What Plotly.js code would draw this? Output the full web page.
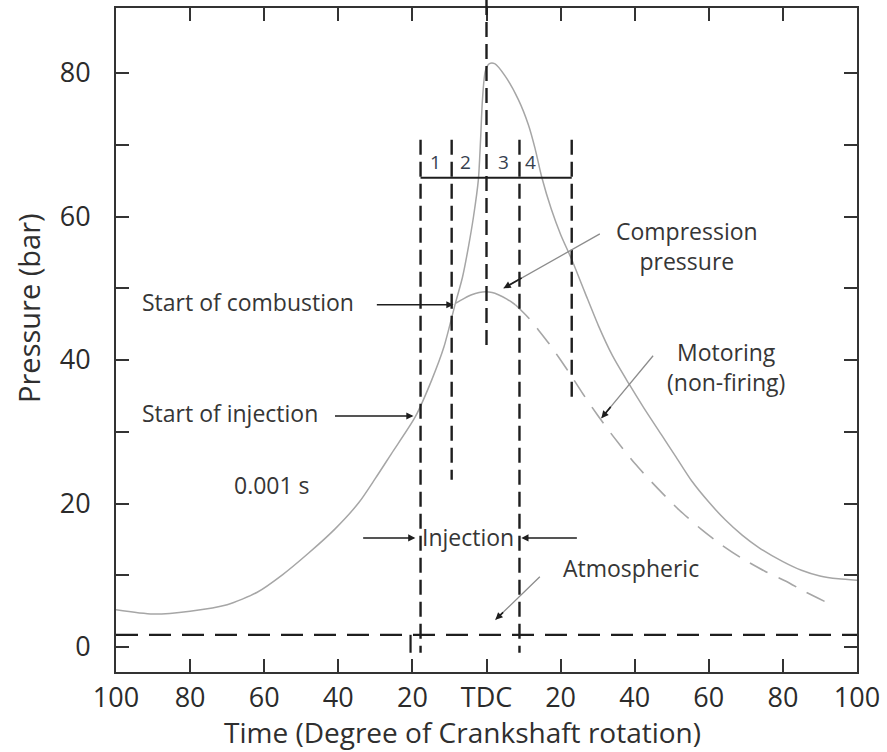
<!DOCTYPE html>
<html>
<head>
<meta charset="utf-8">
<script src="https://cdn.plot.ly/plotly-3.0.1.min.js"></script>
<style>
  html, body { margin: 0; padding: 0; background: #ffffff; }
  #chart { width: 887px; height: 752px; }
</style>
</head>
<body>
<div id="chart"></div>
<script>
// Cylinder pressure vs crank angle for a diesel engine (firing and motoring)

// crank angle in degrees, negative = before TDC
const crankAngle = [-100, -90, -80, -70, -62, -55, -48, -41, -34.5, -30, -25.6, -19.2, -14.8, -11.5, -8.4,
  -6.5, -4.9, -3.5, -2.2, -1.6, -1.1, -0.3, 0.8, 2.2, 5.0, 8.6, 11.3, 13.1, 14.9, 17.5, 20,
  23, 26.5, 30.2, 34, 38.3, 42.5, 47.2, 51, 55.3, 60, 64.5, 69, 73.4, 80, 85, 90, 95, 100];
const firingPressure = [5.2, 4.6, 5.0, 5.9, 7.6, 10.1, 13.1, 16.4, 20.1, 23.5, 27.0, 32.1, 37.2, 41.8, 47.9,
  51.5, 55.7, 60.0, 65.1, 70.7, 76.2, 80.3, 81.3, 81.3, 79.6, 76.3, 72.8, 69.5, 65.5, 61.0, 57.5,
  54.0, 49.5, 44.8, 40.6, 36.8, 33.3, 29.6, 26.6, 23.2, 20.2, 17.7, 15.6, 13.9, 11.9, 10.7, 9.9, 9.5, 9.3];

// motoring (non-firing) curve after it leaves the firing curve
const motoringAngle = [-8.4, -6, -4, -2, -0.3, 1.5, 3.2, 5.5, 7.8];
const motoringPressure = [47.9, 48.6, 49.1, 49.4, 49.5, 49.4, 49.1, 48.5, 47.7];
const motoringTailAngle = [7.8, 11.3, 14, 17, 20, 23, 26, 30, 34, 40, 46.4, 52, 58, 63, 68.8, 75, 80.7, 86, 92.3];
const motoringTailPressure = [47.7, 45.9, 44.2, 42.2, 40.0, 37.7, 35.3, 32.3, 29.5, 25.6, 22.0, 19.1, 16.4, 14.4, 12.4, 10.6, 9.2, 7.7, 6.1];

const atmosphericPressure = 1.7;

// event markers: start of injection, start of combustion, end of injection, end of combustion
const markerAngle = [-17.8, -9.4, 8.9, 23];
const markerTop = [70.7, 70.7, 70.7, 70.7];
const markerBottom = [-0.8, 23.3, -0.8, 34.4];
const tdcAngle = 0;
const tdcBottom = 41.4;
const phaseBarPressure = 65.4;
const phaseLabels = ['1', '2', '3', '4'];
const phaseLabelAngle = [-13.8, -5.7, 4.6, 11.9];
const phaseLabelPressure = 67.6;

// axis ticks
const xTickVals = [-100, -80, -60, -40, -20, 0, 20, 40, 60, 80, 100];
const xTickText = ['100', '80', '60', '40', '20', 'TDC', '20', '40', '60', '80', '100'];
const yTickVals = [0, 10, 20, 30, 40, 50, 60, 70, 80];
const yTickText = ['0', '', '20', '', '40', '', '60', '', '80'];

const xRange = [-100, 100];
const yRange = [-3.48, 89.06];
const toPaperY = v => (v - yRange[0]) / (yRange[1] - yRange[0]);

const curveColor = '#a6a6a6';
const inkColor = '#1e1e1e';
const textColor = '#363636';
const FONT = 'Open Sans, Noto Sans, sans-serif';

const traces = [
  { x: crankAngle, y: firingPressure, mode: 'lines',
    line: { color: curveColor, width: 1.5, shape: 'spline', smoothing: 0.7 }, hoverinfo: 'skip' },
  { x: motoringAngle, y: motoringPressure, mode: 'lines',
    line: { color: curveColor, width: 1.5, shape: 'spline', smoothing: 0.7 }, hoverinfo: 'skip' },
  { x: motoringTailAngle, y: motoringTailPressure, mode: 'lines',
    line: { color: curveColor, width: 1.6, dash: '20px,12px', shape: 'spline', smoothing: 0.7 }, hoverinfo: 'skip' }
];

const shapes = [];
// atmospheric line
shapes.push({ type: 'line', xref: 'x', yref: 'y', x0: xRange[0], x1: xRange[1],
  y0: atmosphericPressure, y1: atmosphericPressure,
  line: { color: inkColor, width: 2.2, dash: '22px,11px' } });
// event markers
markerAngle.forEach((a, i) => {
  shapes.push({ type: 'line', xref: 'x', yref: 'y', x0: a, x1: a,
    y0: markerTop[i], y1: markerBottom[i],
    line: { color: inkColor, width: 2.4, dash: '15px,7px' } });
});
// TDC marker runs through the top of the frame
shapes.push({ type: 'line', xref: 'x', yref: 'paper', x0: tdcAngle, x1: tdcAngle,
  y0: 1.012, y1: toPaperY(tdcBottom),
  line: { color: inkColor, width: 2.4, dash: '15px,7px' } });
// short tick beside the injection marker at the atmospheric line
shapes.push({ type: 'line', xref: 'x', yref: 'y', x0: -20.5, x1: -20.5,
  y0: atmosphericPressure, y1: -0.8, line: { color: inkColor, width: 2.2 } });
// combustion phase bar
shapes.push({ type: 'line', xref: 'x', yref: 'y', x0: markerAngle[0], x1: markerAngle[3],
  y0: phaseBarPressure, y1: phaseBarPressure, line: { color: inkColor, width: 2 } });

const annotations = [];
const label = (text, x, y, opts) => Object.assign({
  text, x, y, xref: 'x', yref: 'y', showarrow: false, xanchor: 'left', yanchor: 'middle',
  font: { family: FONT, size: 23, color: textColor }
}, opts || {});

// black pointer arrow
const pointer = (hx, hy, tx, ty, color) => ({
  x: hx, y: hy, ax: tx, ay: ty, xref: 'x', yref: 'y', axref: 'x', ayref: 'y',
  text: '', showarrow: true, arrowhead: 2, arrowsize: 0.9, arrowwidth: 1.6,
  arrowcolor: color || inkColor, standoff: 0
});
// thin gray leader with a small black head
const leader = (hx, hy, tx, ty) => {
  const f = 0.2;
  return [
    { x: hx, y: hy, ax: tx, ay: ty, xref: 'x', yref: 'y', axref: 'x', ayref: 'y',
      text: '', showarrow: true, arrowhead: 0, arrowwidth: 1.3, arrowcolor: '#8c8c8c' },
    pointer(hx, hy, hx + f * (tx - hx), hy + f * (ty - hy))
  ];
};

annotations.push(label('Start of combustion', -93.4, 48.1));
annotations.push(pointer(-8.9, 47.7, -30.0, 47.7));
annotations.push(label('Start of injection', -93.4, 32.6));
annotations.push(pointer(-19.7, 32.2, -41.3, 32.2));
annotations.push(label('0.001 s', -68.8, 22.6));
annotations.push(label('Compression<br>pressure', 34.3, 55.9));
annotations.push(...leader(4.6, 50.0, 31.0, 57.7));
annotations.push(label('Motoring<br>(non-firing)', 48.3, 39.0));
annotations.push(...leader(31.0, 31.9, 45.3, 40.8));
annotations.push(label('Injection', -4.9, 15.3, { xanchor: 'center' }));
annotations.push(pointer(-19.2, 15.2, -33.7, 15.2));
annotations.push(pointer(9.4, 15.2, 24.8, 15.2));
annotations.push(label('Atmospheric', 20.0, 11.0));
annotations.push(...leader(2.4, 3.8, 14.8, 10.0));
phaseLabels.forEach((t, i) => {
  annotations.push(label(t, phaseLabelAngle[i], phaseLabelPressure,
    { xanchor: 'center', font: { family: FONT, size: 19, color: '#36404e' } }));
});
// axis titles
annotations.push({ text: 'Pressure (bar)', xref: 'paper', yref: 'paper', x: -0.119, y: 0.548,
  showarrow: false, textangle: -90, xanchor: 'center', yanchor: 'middle',
  font: { family: FONT, size: 29, color: '#2f2f2f' } });
annotations.push({ text: 'Time (Degree of Crankshaft rotation)', xref: 'paper', yref: 'paper',
  x: 0.467, y: -0.0904, showarrow: false, xanchor: 'center', yanchor: 'middle',
  font: { family: FONT, size: 28, color: '#2f2f2f' } });

const axisCommon = {
  showline: true, linecolor: '#333', linewidth: 2, mirror: 'ticks',
  ticks: 'inside', ticklen: 13, tickwidth: 2, tickcolor: '#333',
  showgrid: false, zeroline: false, fixedrange: true,
  tickfont: { family: FONT, size: 27, color: '#2b2b2b' }
};

const layout = {
  width: 887, height: 752,
  margin: { l: 116, r: 30, t: 8, b: 80 },
  paper_bgcolor: '#ffffff', plot_bgcolor: '#ffffff',
  showlegend: false,
  font: { family: FONT, color: '#333' },
  xaxis: Object.assign({}, axisCommon, {
    range: xRange, tickmode: 'array', tickvals: xTickVals, ticktext: xTickText,
    ticklabelstandoff: 1
  }),
  yaxis: Object.assign({}, axisCommon, {
    range: yRange, tickmode: 'array', tickvals: yTickVals, ticktext: yTickText,
    ticklabelstandoff: 18
  }),
  shapes, annotations
};

Plotly.newPlot('chart', traces, layout, { displayModeBar: false, staticPlot: true });
</script>
</body>
</html>
